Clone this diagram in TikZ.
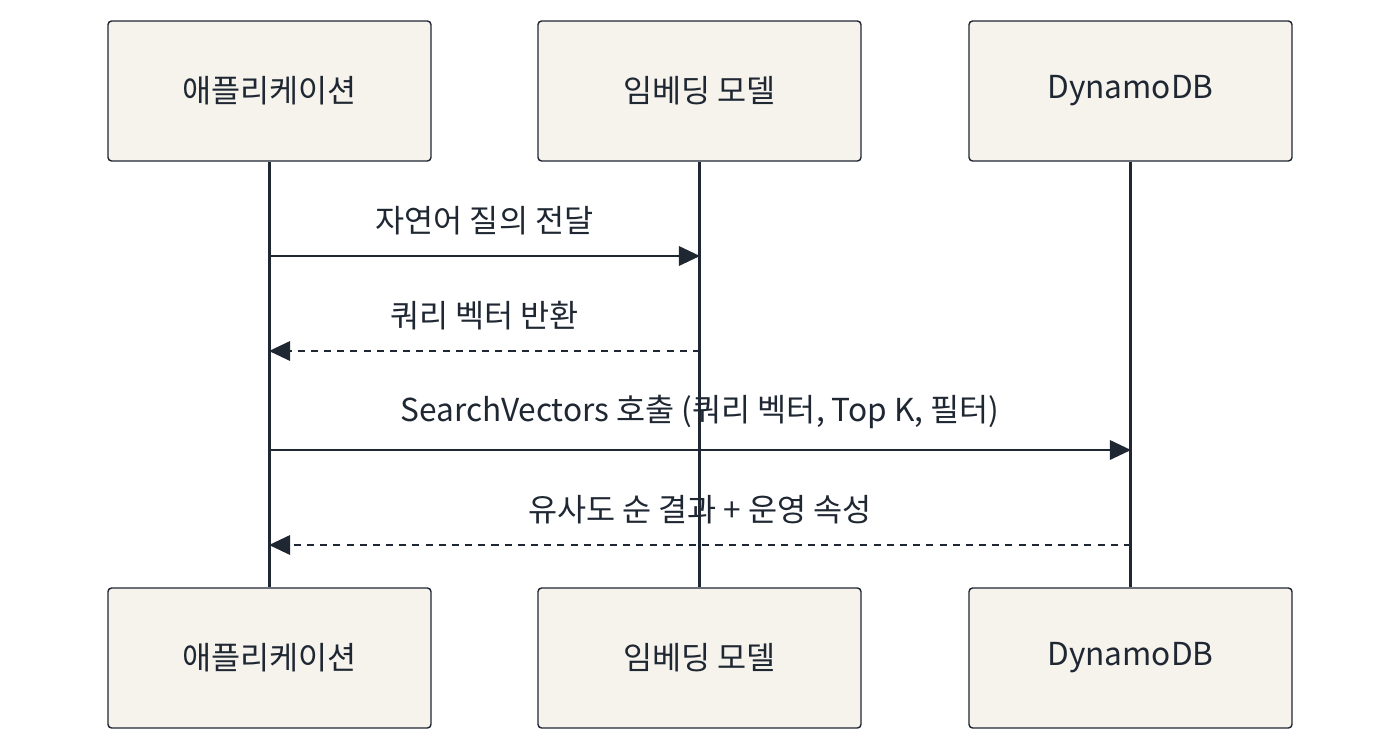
\documentclass[tikz,border=0pt]{standalone}
\usepackage{fontspec}
\setmainfont{Noto Sans CJK KR}
\usetikzlibrary{arrows.meta,positioning}
\definecolor{boxfill}{HTML}{F6F2EC}
\definecolor{ink}{HTML}{1F2733}
\tikzstyle{actor}=[draw=ink, fill=boxfill, thick, rounded corners=2pt, minimum width=6.46cm, minimum height=2.8cm, font=\fontsize{18}{20}\selectfont, text=ink]
\tikzstyle{life}=[ink, line width=2pt]
\tikzstyle{msg}=[ink, line width=1.4pt, -{Triangle[length=12pt,width=11pt]}]
\tikzstyle{reply}=[msg, dash pattern=on 4pt off 3.5pt]
\tikzstyle{lbl}=[font=\fontsize{18}{20}\selectfont, text=ink, above=8pt]
\begin{document}
\begin{tikzpicture}[x=0.02cm, y=-0.02cm]
 \useasboundingbox (0,0) rectangle (1400,752);
%
 \node[actor] (appT) at (269.5,91) {애플리케이션};
 \node[actor] (embT) at (699.5,91) {임베딩 모델};
 \node[actor] (ddbT) at (1130.5,91) {DynamoDB};
 \node[actor] (appB) at (269.5,658) {애플리케이션};
 \node[actor] (embB) at (699.5,658) {임베딩 모델};
 \node[actor] (ddbB) at (1130.5,658) {DynamoDB};
%
 \draw[life] (appT) -- (appB);
 \draw[life] (embT) -- (embB);
 \draw[life] (ddbT) -- (ddbB);
%
 \foreach \n/\y in {1/256, 2/351, 3/450, 4/545} {
  \coordinate (a\n) at (269,\y);
  \coordinate (e\n) at (700,\y);
  \coordinate (d\n) at (1131,\y);
 }
 \draw[msg] (a1) -- node[lbl] {자연어 질의 전달} (e1);
 \draw[reply] (e2) -- node[lbl] {쿼리 벡터 반환} (a2);
 \draw[msg] (a3) -- node[lbl] {SearchVectors 호출 (쿼리 벡터, Top K, 필터)} (d3);
 \draw[reply] (d4) -- node[lbl] {유사도 순 결과 + 운영 속성} (a4);
\end{tikzpicture}
\end{document}
